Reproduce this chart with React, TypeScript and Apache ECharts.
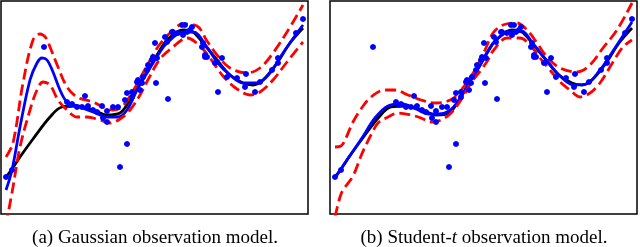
import React, { useEffect, useRef } from 'react';
import * as echarts from 'echarts';

// x: position along the input axis (0..307), y: output value (0..213)
const trueCurve: [number, number][] = [
  [5, 37], [11, 45], [19, 57], [32, 75], [49, 97], [61, 107], [76, 108], [92, 104], [106, 99],
  [119, 101], [129, 114], [139, 131], [149, 147], [159, 164], [166, 174], [182, 184],
  [192, 182], [202, 171], [216, 154], [229, 139], [242, 131], [252, 129], [262, 134],
  [276, 151], [289, 171], [302, 186],
];

const gaussMean: [number, number][] = [
  [5, 24], [11, 44], [19, 87], [29, 134], [36, 151], [41, 156], [46, 154], [52, 142],
  [59, 124], [66, 112], [76, 108], [92, 102], [106, 97], [117, 97], [126, 104],
  [136, 124], [146, 141], [159, 162], [166, 171], [182, 182], [192, 182], [206, 167],
  [216, 152], [229, 139], [242, 131], [256, 131], [269, 141], [282, 161], [296, 181],
  [302, 189],
];

const gaussUpper: [number, number][] = [
  [5, 57], [12, 71], [22, 131], [32, 174], [39, 180], [45, 176], [49, 167], [57, 147],
  [66, 127], [76, 117], [92, 112], [102, 107], [112, 104], [122, 108], [132, 123],
  [142, 141], [152, 159], [159, 170], [169, 181], [182, 190], [196, 188], [206, 173],
  [216, 159], [229, 146], [246, 141], [259, 146], [272, 161], [286, 182], [302, 209],
];

const gaussLower: [number, number][] = [
  [5, -11], [12, 27], [19, 67], [29, 104], [36, 124], [42, 132], [49, 129], [57, 114],
  [66, 104], [76, 97], [86, 97], [99, 94], [109, 91], [119, 95], [129, 104], [139, 119],
  [149, 138], [159, 155], [172, 167], [186, 176], [199, 168], [209, 156], [222, 138],
  [236, 125], [249, 119], [259, 122], [272, 134], [286, 152], [302, 172],
];

const studentMean: [number, number][] = [
  [5, 36], [19, 57], [32, 76], [45, 96], [58, 108], [72, 110], [86, 105], [99, 100],
  [109, 100], [119, 103], [129, 114], [139, 131], [149, 147], [159, 165], [166, 174],
  [178, 182], [191, 183], [204, 169], [218, 152], [231, 137], [244, 129], [256, 130],
  [270, 144], [283, 163], [302, 192],
];

const studentUpper: [number, number][] = [
  [5, 67], [11, 68], [15, 74], [23, 92], [31, 105], [41, 117], [55, 124], [65, 124],
  [78, 119], [91, 114], [105, 111], [115, 112], [125, 117], [135, 129], [145, 144],
  [155, 164], [163, 181], [173, 189], [187, 191], [197, 184], [207, 171], [217, 157],
  [230, 146], [247, 142], [260, 149], [273, 166], [287, 184], [302, 211],
];

const studentLower: [number, number][] = [
  [5, -3], [10, 17], [13, 24], [23, 38], [31, 58], [35, 67], [42, 81], [48, 91], [58, 97],
  [68, 101], [81, 99], [91, 96], [101, 92], [111, 94], [121, 101], [131, 114], [141, 131],
  [151, 144], [158, 154], [163, 163], [177, 176], [190, 176], [200, 169], [210, 156],
  [220, 144], [230, 132], [240, 124], [250, 117], [260, 121], [270, 131], [283, 152],
  [293, 167], [302, 174],
];

const observations: [number, number][] = [
  [5, 37], [11, 44], [43, 167], [66, 112], [69, 109], [71, 110], [76, 107], [81, 107],
  [84, 118], [87, 108], [92, 104], [96, 102], [101, 108], [102, 96], [106, 92], [106, 103],
  [112, 107], [117, 107], [119, 47], [124, 114], [126, 70], [126, 121], [131, 122],
  [131, 117], [136, 132], [137, 134], [139, 124], [141, 131], [142, 137], [146, 144],
  [147, 149], [151, 154], [152, 157], [154, 171], [155, 131], [156, 156], [164, 177],
  [166, 172], [167, 115], [171, 182], [172, 182], [177, 181], [181, 189], [182, 179],
  [184, 189], [186, 182], [189, 184], [191, 187], [201, 167], [202, 171], [204, 157],
  [204, 159], [206, 157], [214, 151], [216, 152], [217, 122], [221, 156], [226, 137],
  [236, 136], [244, 127], [245, 140], [254, 122], [259, 132], [271, 144], [277, 156],
  [277, 151], [295, 181], [302, 195],
];

const captions = ['(a) Gaussian observation model.', '(b) Student-{i|t} observation model.'];

export default function App() {
  const ref = useRef<HTMLDivElement>(null);
  useEffect(() => {
    const chart = echarts.init(ref.current!, null, { renderer: 'svg' });
    const panels = [
      { mean: gaussMean, upper: gaussUpper, lower: gaussLower },
      { mean: studentMean, upper: studentUpper, lower: studentLower },
    ];
    const lefts = [1, 330];
    const series: any[] = [];
    panels.forEach((p, i) => {
      const base = { type: 'line', xAxisIndex: i, yAxisIndex: i, showSymbol: false, smooth: 0.35, clip: true };
      series.push({ ...base, data: trueCurve, lineStyle: { color: '#000000', width: 2.8 }, z: 2 });
      series.push({ ...base, data: p.mean, lineStyle: { color: '#0000ff', width: 2.8 }, z: 3 });
      series.push({ ...base, data: p.upper, lineStyle: { color: '#ff0000', width: 2.8, type: [11, 5] }, z: 4 });
      series.push({ ...base, data: p.lower, lineStyle: { color: '#ff0000', width: 2.8, type: [11, 5] }, z: 4 });
      series.push({
        type: 'scatter', xAxisIndex: i, yAxisIndex: i, data: observations, symbolSize: 6,
        itemStyle: { color: '#0000ff', opacity: 1 }, z: 5,
      });
    });
    chart.setOption({
      animation: false,
      grid: lefts.map((l) => ({
        left: l, top: 1, width: 307, height: 213, show: true,
        borderColor: '#000000', borderWidth: 1.5, backgroundColor: 'transparent',
      })),
      xAxis: lefts.map((_, i) => ({ type: 'value', gridIndex: i, min: 0, max: 307, show: false })),
      yAxis: lefts.map((_, i) => ({ type: 'value', gridIndex: i, min: 0, max: 213, show: false })),
      series,
      graphic: captions.map((c, i) => ({
        type: 'text',
        x: lefts[i] + 154,
        y: 236,
        style: {
          text: c,
          align: 'center',
          verticalAlign: 'middle',
          fontFamily: 'Liberation Serif',
          fontSize: 19,
          fill: '#000000',
          rich: { i: { fontStyle: 'italic', fontFamily: 'Liberation Serif', fontSize: 19 } },
        },
      })),
    });
    return () => chart.dispose();
  }, []);
  return <div ref={ref} style={{ position: 'fixed', left: 0, top: 0, width: 640, height: 247 }} />;
}
